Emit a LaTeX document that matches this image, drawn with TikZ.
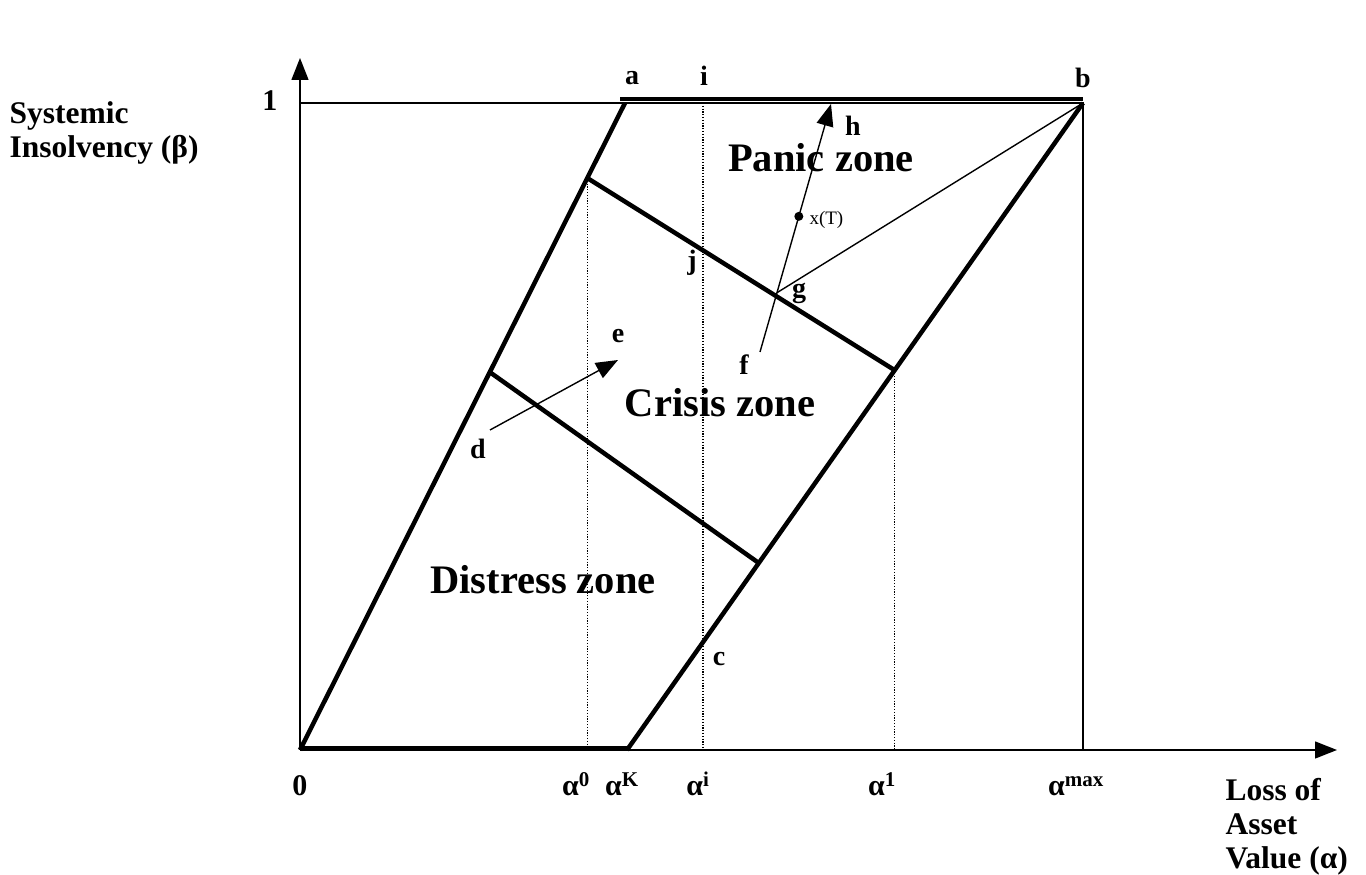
\documentclass[tikz,border=0pt]{standalone}
\usepackage{fontspec}
\setmainfont{Liberation Serif}
\usetikzlibrary{arrows.meta,calc}

\begin{document}
\begin{tikzpicture}[
    x=1pt, y=1pt,
    thick line/.style={line width=4.5pt},
    thin line/.style={line width=1.4pt},
    guide/.style={line width=1.1pt, dash pattern=on 1.2pt off 1.6pt},
    axislbl/.style={align=left, anchor=west, font=\fontsize{31.5}{34}\selectfont\bfseries},
    zonelbl/.style={font=\fontsize{40.5}{44}\selectfont\bfseries},
    ptlbl/.style={font=\fontsize{28}{30}\selectfont\bfseries},
    ticklbl/.style={anchor=base, font=\fontsize{30}{32}\selectfont\bfseries},
    tip/.style={-{Triangle[length=22pt,width=17pt]}}
]
\useasboundingbox (-300,-125) rectangle (1066,750);

% axes and frame
\coordinate (O) at (0,0);
\coordinate (ytop) at (0,692);
\coordinate (xend) at (1037,0);
\coordinate (one) at (0,647);
\coordinate (a) at (325,647);
\coordinate (b) at (783,647);
\coordinate (K) at (327,0);
\draw[thin line, tip] (O) -- (ytop);
\draw[thin line, tip] (O) -- (xend);
\draw[thin line] (one) -- (b) -- (b |- O);

% zone boundaries
\coordinate (lo1) at ($(O)!0.584!(a)$);
\coordinate (lo2) at ($(K)!0.289!(b)$);
\coordinate (up1) at ($(O)!0.884!(a)$);
\coordinate (up2) at ($(K)!0.587!(b)$);
\draw[thick line] ($(a)+(-5,4)$) -- ($(b)+(0,4)$);
\draw[thick line] ($(O)+(0,2)$) -- ($(K)+(0,2)$);
\draw[thick line] (O) -- (a);
\draw[thick line] (K) -- (b);
\draw[thick line] (lo1) -- (lo2);
\draw[thick line] (up1) -- (up2);

% dotted guides
\coordinate (ai) at (403,647);
\draw[guide] (up1) -- (up1 |- O);
\draw[guide] (ai) -- (ai |- O);
\draw[guide] (up2) -- (up2 |- O);

% paths
\coordinate (d) at (190,320);
\coordinate (e) at (318,390);
\coordinate (f) at (460,398);
\coordinate (h) at (531,646);
\coordinate (g) at ($(f)!0.239!(h)$);
\coordinate (xT) at ($(f)!0.547!(h)$);
\draw[thin line, tip] (d) -- (e);
\draw[thin line, tip] (f) -- (h);
\draw[thin line] (g) -- (b);
\fill (xT) circle (4.5pt);

% labels
\node[ptlbl, font=\fontsize{30}{32}\selectfont\bfseries] (lone) at (-30,649) {1};
\node[axislbl] (ylbl) at (-294,617) {Systemic\\Insolvency (β)};
\node[axislbl] (xlbl) at (922,-77) {Loss of\\Asset\\Value (α)};
\node[ptlbl] (la) at (332,672) {a};
\node[ptlbl] (li) at (404,674) {i};
\node[ptlbl] (lb) at (783,672) {b};
\node[ptlbl] (lh) at (553,624) {h};
\node[ptlbl] (lj) at (392,487) {j};
\node[ptlbl] (lg) at (499,457) {g};
\node[ptlbl] (lf) at (444,385) {f};
\node[ptlbl] (le) at (318,414) {e};
\node[ptlbl] (ld) at (178,301) {d};
\node[ptlbl] (lc) at (419,91) {c};
\node[anchor=west, font=\fontsize{19}{22}\selectfont] (lxT) at (506,530) {x(T)};
\node[zonelbl] (panic) at (521,592) {Panic zone};
\node[zonelbl] (crisis) at (420,347) {Crisis zone};
\node[zonelbl] (distress) at (243,170) {Distress zone};

% tick labels
\node[ticklbl] (t0) at (0,-46) {0};
\node[ticklbl] (ta0) at (276,-46) {α\textsuperscript{0}};
\node[ticklbl] (taK) at (322,-46) {α\textsuperscript{K}};
\node[ticklbl] (tai) at (398,-46) {α\textsuperscript{i}};
\node[ticklbl] (ta1) at (582,-46) {α\textsuperscript{1}};
\node[ticklbl] (tamax) at (776,-46) {α\textsuperscript{max}};
\end{tikzpicture}
\end{document}
